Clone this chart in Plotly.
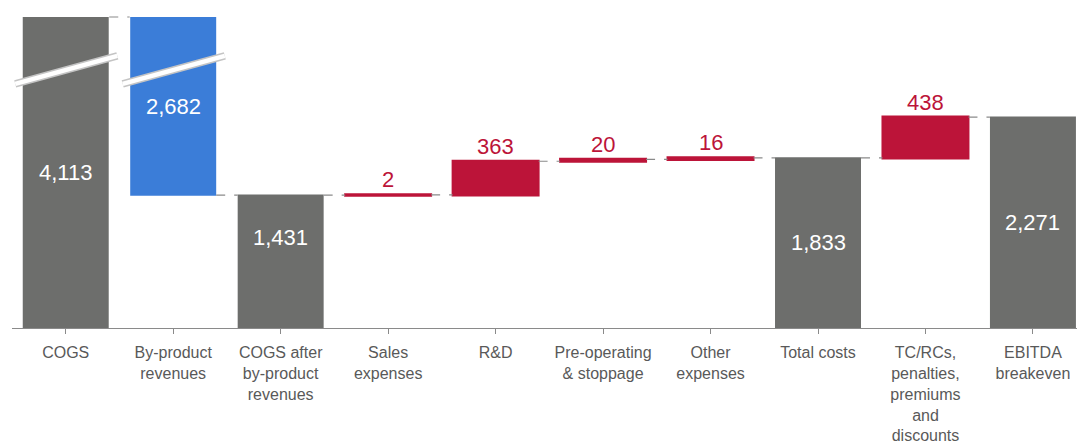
import plotly.graph_objects as go

# Cost waterfall: COGS down to EBITDA breakeven
categories = [
    "COGS",
    "By-product<br>revenues",
    "COGS after<br>by-product<br>revenues",
    "Sales<br>expenses",
    "R&D",
    "Pre-operating<br>& stoppage",
    "Other<br>expenses",
    "Total costs",
    "TC/RCs,<br>penalties,<br>premiums<br>and<br>discounts",
    "EBITDA<br>breakeven",
]
values = [4113, -2682, 1431, 2, 363, 20, 16, 1833, 438, 2271]
measures = ["absolute", "relative", "absolute", "relative", "relative",
            "relative", "relative", "absolute", "relative", "absolute"]

GREY = "#6d6e6c"
BLUE = "#3b7dd8"
RED = "#bc1439"
AXIS_MAX = 3350  # axis is broken above this level

fig = go.Figure()
fig.add_trace(go.Waterfall(
    x=list(range(len(categories))),
    y=values,
    measure=measures,
    textinfo="none",
    totals=dict(marker=dict(color=GREY, line=dict(color=GREY, width=0))),
    decreasing=dict(marker=dict(color=BLUE, line=dict(color=BLUE, width=0))),
    increasing=dict(marker=dict(color=RED, line=dict(color=RED, width=2))),
    connector=dict(mode="between", line=dict(color="#8a8a8a", width=1.2, dash="dash")),
    hoverinfo="skip",
))

# bar extents, derived from the values
bases, tops = [], []
level = 0
for v, m in zip(values, measures):
    if m == "absolute":
        b, t = 0, v
        level = v
    else:
        b, t = level, level + v
        level = level + v
    bases.append(min(b, t))
    tops.append(max(b, t))

annotations = []
label_shift = {2: 24}
for i, (v, m) in enumerate(zip(values, measures)):
    txt = f"{abs(v):,}"
    if m == "relative" and v > 0:
        annotations.append(dict(x=i, y=tops[i], text=txt, showarrow=False,
                                yshift=15, font=dict(color=RED, size=22)))
    else:
        mid = (bases[i] + min(tops[i], AXIS_MAX)) / 2
        annotations.append(dict(x=i, y=mid, text=txt, showarrow=False,
                                yshift=label_shift.get(i, 0),
                                font=dict(color="white", size=22)))

shapes = []
# axis-break marks across the two clipped bars
for i in (0, 1):
    for col, w in (("#c4c4c4", 7.5), ("white", 4.5)):
        shapes.append(dict(type="line", xref="x", yref="paper",
                           x0=i - 0.47, x1=i + 0.48, y0=0.785, y1=0.875,
                           line=dict(color=col, width=w)))
# connector along the break between the first two bars
shapes.append(dict(type="line", xref="x", yref="paper", x0=0.405, x1=0.595,
                   y0=1, y1=1, line=dict(color="#8a8a8a", width=1.2, dash="dash")))

fig.update_layout(
    width=1077, height=444,
    margin=dict(l=12, r=0, t=17, b=113),
    paper_bgcolor="white", plot_bgcolor="white",
    font=dict(family="Liberation Sans, Arial, sans-serif"),
    showlegend=False,
    bargap=0.19,
    annotations=annotations,
    shapes=shapes,
    xaxis=dict(
        tickmode="array", tickvals=list(range(len(categories))), ticktext=categories,
        range=[-0.5, 9.41], tickson="boundaries", ticks="outside", ticklen=5,
        tickcolor="#8a8a8a", showline=True, linecolor="#8a8a8a", linewidth=1,
        showgrid=False, zeroline=False,
        tickfont=dict(size=16, color="#595959"), ticklabelstandoff=5,
    ),
    yaxis=dict(range=[0, AXIS_MAX], visible=False, showgrid=False, zeroline=False),
)

fig.write_html("out.html")
